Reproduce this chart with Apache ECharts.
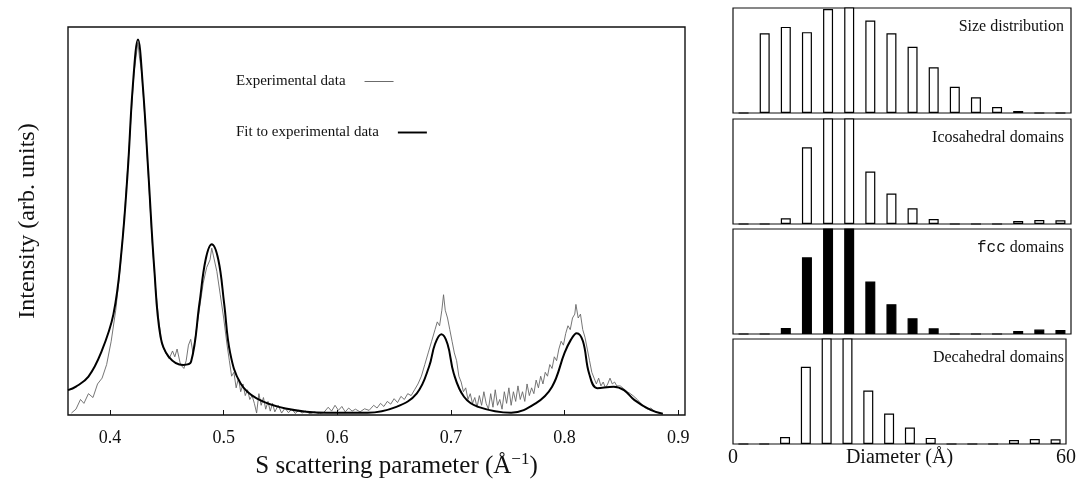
<!DOCTYPE html>
<html>
<head>
<meta charset="utf-8">
<script src="https://cdn.jsdelivr.net/npm/echarts@6/dist/echarts.min.js"></script>
<style>
  html, body { margin: 0; padding: 0; background: #fff; }
  #chart { width: 1079px; height: 484px; }
</style>
</head>
<body>
<div id="chart"></div>
<script>
// left panel: scattering intensity vs S (1/Å)
var sTicks = [0.4, 0.5, 0.6, 0.7, 0.8, 0.9];

var expData = [
  [0.366, 0.5], [0.370, 1.5], [0.374, 4.0], [0.377, 3.0], [0.381, 5.5], [0.385, 4.5], [0.389, 8.0],
  [0.393, 9.5], [0.397, 13], [0.401, 19], [0.405, 27], [0.409, 38], [0.413, 53], [0.417, 70],
  [0.421, 88], [0.4245, 96], [0.426, 92], [0.428, 88], [0.431, 75], [0.434, 60], [0.437, 45],
  [0.440, 33], [0.443, 24], [0.446, 18], [0.449, 16], [0.452, 14.5], [0.455, 16.5], [0.457, 15],
  [0.459, 17], [0.462, 13], [0.465, 12], [0.467, 14], [0.469, 18], [0.471, 19.5], [0.473, 16],
  [0.476, 22], [0.479, 28], [0.482, 34], [0.485, 38], [0.488, 40], [0.4895, 43], [0.491, 41],
  [0.494, 37], [0.497, 31], [0.500, 25], [0.503, 18], [0.505, 14], [0.507, 10], [0.509, 11],
  [0.511, 7], [0.513, 9.5], [0.515, 6], [0.517, 8], [0.519, 5], [0.521, 6.5], [0.523, 4],
  [0.525, 5], [0.527, 3], [0.529, 0.5], [0.531, 5.5], [0.533, 2.5], [0.535, 4.5], [0.537, 1.5],
  [0.539, 3.5], [0.541, 1], [0.543, 3], [0.545, 0.8], [0.548, 2.5], [0.551, 0.5], [0.554, 1.8],
  [0.557, 0.6], [0.560, 1.5], [0.563, 0.4], [0.566, 1.2], [0.569, 0.5], [0.572, 1], [0.576, 0.3],
  [0.580, 0.8], [0.584, 0.3], [0.588, 0.6], [0.592, 2], [0.595, 1], [0.598, 2.5], [0.601, 1.2],
  [0.604, 2.2], [0.607, 0.8], [0.610, 1.8], [0.613, 1], [0.616, 1.5], [0.620, 0.8], [0.624, 1.6],
  [0.628, 1.2], [0.632, 2.5], [0.635, 1.8], [0.638, 3], [0.641, 2.2], [0.644, 3.5], [0.647, 2.8],
  [0.650, 4.2], [0.653, 3.2], [0.656, 4.8], [0.659, 4], [0.662, 5.5], [0.665, 5], [0.668, 6.5],
  [0.671, 8], [0.674, 10], [0.677, 13], [0.680, 16], [0.683, 19], [0.686, 22], [0.688, 24],
  [0.690, 23], [0.692, 27], [0.6935, 31], [0.695, 27], [0.697, 25], [0.699, 22], [0.701, 19],
  [0.703, 16], [0.705, 14], [0.707, 10], [0.709, 8.5], [0.711, 6], [0.713, 7], [0.715, 4],
  [0.717, 5.5], [0.719, 3], [0.721, 4.5], [0.723, 2], [0.725, 5], [0.727, 2.5], [0.729, 6],
  [0.731, 3], [0.733, 1.5], [0.735, 5.5], [0.737, 2], [0.739, 6.5], [0.741, 2.5], [0.743, 4],
  [0.745, 1.5], [0.747, 6], [0.749, 3], [0.751, 7], [0.753, 2.5], [0.755, 6], [0.757, 3.5],
  [0.759, 7.5], [0.761, 4], [0.763, 6], [0.765, 3.5], [0.767, 8], [0.769, 5], [0.771, 7],
  [0.773, 5.5], [0.775, 9], [0.777, 7], [0.779, 10], [0.781, 8], [0.783, 11], [0.785, 10],
  [0.787, 13], [0.789, 12], [0.791, 15], [0.793, 14], [0.795, 17], [0.797, 19], [0.799, 18],
  [0.801, 21], [0.803, 23], [0.805, 22], [0.807, 25], [0.809, 26], [0.810, 28.5], [0.812, 25],
  [0.814, 26], [0.816, 22], [0.818, 20], [0.820, 17], [0.822, 14], [0.824, 11], [0.826, 9.5],
  [0.828, 8], [0.830, 9.5], [0.832, 7.5], [0.834, 8.5], [0.836, 7], [0.838, 8], [0.840, 9.5],
  [0.842, 8], [0.844, 8.5], [0.846, 7.5], [0.849, 7.5], [0.852, 6.8], [0.855, 6], [0.858, 5.5],
  [0.861, 4.8], [0.864, 4], [0.867, 3], [0.870, 2], [0.873, 1.5], [0.876, 1.8], [0.879, 1],
  [0.882, 0.6], [0.885, 0.3]
];

var fitData = [
  [0.363, 6.4], [0.370, 7.3], [0.381, 9.9], [0.392, 16], [0.403, 26], [0.410, 42], [0.4156, 63],
  [0.420, 84.6], [0.4246, 96.8], [0.4289, 84.6], [0.4336, 63], [0.439, 37.4], [0.4444, 20.2],
  [0.4517, 15], [0.4643, 12.9], [0.4713, 13.7], [0.4787, 28.8], [0.4841, 40], [0.4895, 44],
  [0.4953, 40], [0.5004, 28.8], [0.5057, 16], [0.5148, 8.2], [0.529, 4.3], [0.5545, 1.7],
  [0.5906, 0.6], [0.6267, 0.6], [0.652, 2.1], [0.670, 5.6], [0.6808, 12.5], [0.686, 18.3],
  [0.6916, 20.8], [0.697, 18.3], [0.7025, 10.7], [0.7115, 4.7], [0.724, 2.1], [0.753, 0.6],
  [0.7746, 3.0], [0.789, 7.3], [0.800, 16], [0.8054, 19.3], [0.8107, 21.1], [0.8162, 19],
  [0.8216, 10.7], [0.8288, 6.9], [0.8432, 7.3], [0.8523, 6.4], [0.8613, 3.9], [0.8757, 1.3],
  [0.8865, 0.3]
];

// right panels: diameter bins (Å), heights in % of panel height (>100 runs off the top)
var binCenters = [1.9, 5.6, 9.4, 13.1, 16.9, 20.6, 24.4, 28.1, 31.9, 35.6, 39.4, 43.1, 46.9, 50.6, 54.4, 58.1];
var sizeDist   = [0, 76, 82, 77, 99, 130, 88, 76, 63, 43.5, 25, 15, 5.7, 1.9, 0, 0];
var icosaDist  = [0, 0, 5.4, 73, 130, 130, 50, 29, 15, 4.8, 0, 0, 0, 2.9, 3.8, 3.5];
var fccDist    = [0, 0, 5.8, 73, 130, 130, 50, 28.4, 15, 5.4, 0, 0, 0, 2.9, 4.2, 3.8];
var decaDist   = [0, 0, 6.7, 73.5, 130, 130, 51, 29, 15.7, 5.8, 0, 0, 0, 3.8, 4.8, 4.5];
var diamTicks  = [0, 60];

var serif = '"Liberation Serif", "DejaVu Serif", serif';
var chart = echarts.init(document.getElementById('chart'));

var panelTops = [8, 119, 229, 339];
var panelNames = ['Size distribution', 'Icosahedral domains', '{m|fcc} domains', 'Decahedral domains'];
var panelData = [sizeDist, icosaDist, fccDist, decaDist];

var grids = [{ left: 68, top: 27, width: 617, height: 388, show: true, borderColor: '#111', borderWidth: 1.4 }];
var xAxes = [{
  type: 'value', gridIndex: 0, min: 0.363, max: 0.906,
  axisLine: { show: false },
  splitLine: { show: false },
  axisTick: { show: true, inside: true, length: 5, customValues: sTicks, lineStyle: { color: '#111' } },
  axisLabel: {
    customValues: sTicks, margin: 14, color: '#111', fontFamily: serif, fontSize: 18,
    formatter: function(v) { return v.toFixed(1); }
  },
  name: '{a|S scattering parameter (Å}{s|−1}{a|)}',
  nameLocation: 'middle', nameGap: 36, nameMoveOverlap: false,
  nameTextStyle: {
    padding: [0, 0, 0, 40],
    rich: {
      a: { fontFamily: serif, fontSize: 25, color: '#111', verticalAlign: 'bottom' },
      s: { fontFamily: serif, fontSize: 17, color: '#111', verticalAlign: 'top', padding: [0, 0, 11, 0] }
    }
  }
}];
var yAxes = [{
  type: 'value', gridIndex: 0, min: 0, max: 100,
  axisLine: { show: false }, axisTick: { show: false }, axisLabel: { show: false }, splitLine: { show: false },
  name: 'Intensity (arb. units)', nameLocation: 'middle', nameGap: 28, nameMoveOverlap: false,
  nameTextStyle: { fontFamily: serif, fontSize: 24, color: '#111' }
}];
var titles = [];
var series = [
  { name: 'Experimental data', type: 'line', xAxisIndex: 0, yAxisIndex: 0, data: expData,
    symbol: 'none', lineStyle: { color: '#666', width: 0.9 }, itemStyle: { color: '#666' }, z: 2 },
  { name: 'Fit to experimental data', type: 'line', xAxisIndex: 0, yAxisIndex: 0, data: fitData,
    symbol: 'none', smooth: 0.4, lineStyle: { color: '#000', width: 2 }, itemStyle: { color: '#000' }, z: 3 }
];

panelTops.forEach(function(top, i) {
  var g = i + 1;
  grids.push({ left: 733, top: top, width: 338, height: 105, show: true, borderColor: '#111', borderWidth: 1.2 });
  xAxes.push({
    type: 'category', gridIndex: g, data: binCenters, boundaryGap: true,
    axisLine: { show: false }, axisTick: { show: false }, axisLabel: { show: false }
  });
  yAxes.push({
    type: 'value', gridIndex: g, min: 0, max: 100,
    axisLine: { show: false }, axisTick: { show: false }, axisLabel: { show: false }, splitLine: { show: false }
  });
  titles.push({
    text: panelNames[i], right: 15, top: top + 11, padding: 0,
    textStyle: {
      fontFamily: serif, fontSize: 16, fontWeight: 'normal', color: '#111',
      rich: { m: { fontFamily: '"Liberation Mono", "DejaVu Sans Mono", monospace', fontSize: 16, color: '#111' } }
    }
  });
  var filled = (i === 2);
  series.push({
    type: 'bar', xAxisIndex: g, yAxisIndex: g, data: panelData[i], barWidth: 10, clip: true,
    itemStyle: { color: filled ? '#000' : '#fff', borderColor: '#000', borderWidth: 1.2 }
  });
});

// diameter scale under the last panel
xAxes.push({
  type: 'value', gridIndex: 4, min: 0, max: 60, interval: 60, position: 'bottom',
  axisLine: { show: false }, axisTick: { show: false }, splitLine: { show: false },
  axisLabel: { customValues: diamTicks, margin: 4, color: '#111', fontFamily: serif, fontSize: 20 },
  name: 'Diameter (Å)', nameLocation: 'middle', nameGap: 4, nameMoveOverlap: false,
  nameTextStyle: { fontFamily: serif, fontSize: 20, color: '#111', verticalAlign: 'top' }
});

var legendText = { fontFamily: serif, fontSize: 15, color: '#111', padding: [0, 14, 0, 0] };
var option = {
  backgroundColor: '#fff',
  animation: false,
  title: titles,
  grid: grids,
  xAxis: xAxes,
  yAxis: yAxes,
  legend: [{
    data: [{ name: 'Experimental data', icon: 'path://M0,0 L30,0 L30,1 L0,1 Z' }],
    left: 236, top: 74, align: 'right', itemWidth: 29, itemHeight: 14, padding: 0,
    textStyle: legendText
  }, {
    data: [{ name: 'Fit to experimental data', icon: 'path://M0,0 L15,0 L15,1 L0,1 Z' }],
    left: 236, top: 125, align: 'right', itemWidth: 29, itemHeight: 14, padding: 0,
    textStyle: legendText
  }],
  series: series
};
chart.setOption(option);
</script>
</body>
</html>
